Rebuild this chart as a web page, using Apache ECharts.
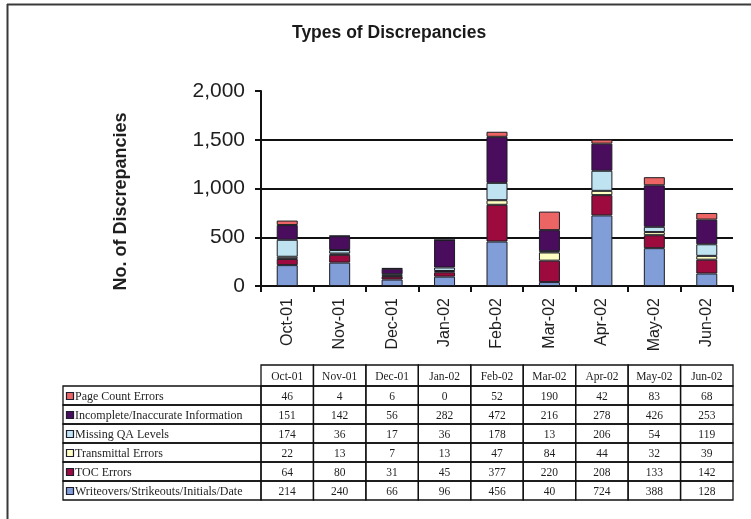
<!DOCTYPE html>
<html>
<head>
<meta charset="utf-8">
<script src="https://cdn.jsdelivr.net/npm/echarts@6/dist/echarts.min.js"></script>
<style>
  html, body { margin: 0; padding: 0; background: #ffffff; }
  #chart { width: 751px; height: 519px; }
</style>
</head>
<body>
<div id="chart"></div>
<script>
// Months shown on the category axis and as table column headers
const months = ['Oct-01', 'Nov-01', 'Dec-01', 'Jan-02', 'Feb-02', 'Mar-02', 'Apr-02', 'May-02', 'Jun-02'];

// Discrepancy counts per month, one array per type
const pageCountErrors   = [46, 4, 6, 0, 52, 190, 42, 83, 68];
const incompleteInfo    = [151, 142, 56, 282, 472, 216, 278, 426, 253];
const missingQALevels   = [174, 36, 17, 36, 178, 13, 206, 54, 119];
const transmittalErrors = [22, 13, 7, 13, 47, 84, 44, 32, 39];
const tocErrors         = [64, 80, 31, 45, 377, 220, 208, 133, 142];
const writeovers        = [214, 240, 66, 96, 456, 40, 724, 388, 128];

// Value axis ticks
const yTicks = [0, 500, 1000, 1500, 2000];

// Table rows, top to bottom (the stack is drawn bottom-up, i.e. reversed)
const rows = [
  { name: 'Page Count Errors', data: pageCountErrors, color: '#ec6464' },
  { name: 'Incomplete/Inaccurate Information', data: incompleteInfo, color: '#4a0c5c' },
  { name: 'Missing QA Levels', data: missingQALevels, color: '#bfe3f0' },
  { name: 'Transmittal Errors', data: transmittalErrors, color: '#ffffc2' },
  { name: 'TOC Errors', data: tocErrors, color: '#9c0a3e' },
  { name: 'Writeovers/Strikeouts/Initials/Date', data: writeovers, color: '#819ed9' }
];

const chart = echarts.init(document.getElementById('chart'), null, { renderer: 'canvas' });

const series = rows.slice().reverse().map(r => ({
  name: r.name,
  type: 'bar',
  stack: 'total',
  barWidth: 21,
  data: r.data,
  itemStyle: { color: r.color, borderColor: '#1c1c24', borderWidth: 1 },
  emphasis: { disabled: true }
}));

chart.setOption({
  animation: false,
  backgroundColor: '#ffffff',
  title: {
    text: 'Types of Discrepancies',
    left: 287,
    top: 19,
    textStyle: { fontFamily: 'Liberation Sans, Arial, sans-serif', fontSize: 17.5, fontWeight: 'bold', color: '#1a1a1a' }
  },
  grid: { left: 261, right: 18, top: 91, bottom: 233, containLabel: false },
  xAxis: {
    type: 'category',
    data: months,
    axisLine: { show: true, lineStyle: { color: '#111', width: 2 } },
    axisTick: { show: true, length: 6, alignWithLabel: false, lineStyle: { color: '#111', width: 2 } },
    axisLabel: {
      rotate: 90,
      margin: 12,
      fontFamily: 'Liberation Sans, Arial, sans-serif',
      fontSize: 16,
      color: '#1e1e1e'
    }
  },
  yAxis: {
    type: 'value',
    min: yTicks[0],
    max: yTicks[yTicks.length - 1],
    interval: yTicks[1] - yTicks[0],
    name: 'No. of Discrepancies',
    nameLocation: 'middle',
    nameRotate: 90,
    nameGap: 131,
    nameTextStyle: {
      fontFamily: 'Liberation Sans, Arial, sans-serif',
      fontSize: 18,
      fontWeight: 'bold',
      color: '#1e1e1e',
      padding: [0, 26, 0, 0]
    },
    axisLine: { show: true, lineStyle: { color: '#111', width: 2 } },
    axisTick: { show: true, length: 6, lineStyle: { color: '#111', width: 2 } },
    axisLabel: {
      margin: 16,
      fontFamily: 'Liberation Sans, Arial, sans-serif',
      fontSize: 21,
      color: '#1e1e1e',
      formatter: v => v.toLocaleString('en-US')
    },
    splitLine: { show: true, showMinLine: false, showMaxLine: false, lineStyle: { color: '#111', width: 2 } }
  },
  series: series
});

// Data table under the chart, columns aligned with the category axis
function drawTable() {
  const centers = months.map(m => chart.convertToPixel({ xAxisIndex: 0 }, m));
  const colW = centers[1] - centers[0];
  const tableLeft = 63;
  const firstCol = centers[0] - colW / 2;
  const headerTop = 365;
  const headerH = 21;
  const rowH = 19;
  const serif = 'Liberation Serif, Times New Roman, serif';
  const line = { stroke: '#111', lineWidth: 1.3 };
  const els = [];

  // Outer frame of the figure
  els.push({ type: 'line', shape: { x1: 7.5, y1: 4, x2: 7.5, y2: 519 }, style: { stroke: '#3a3a3a', lineWidth: 2 }, silent: true });
  els.push({ type: 'line', shape: { x1: 7, y1: 4.5, x2: 751, y2: 4.5 }, style: { stroke: '#3a3a3a', lineWidth: 2 }, silent: true });

  // Header row
  months.forEach((m, i) => {
    const x = firstCol + i * colW;
    els.push({ type: 'rect', shape: { x: x, y: headerTop, width: colW, height: headerH }, style: Object.assign({ fill: 'none' }, line), silent: true });
    els.push({ type: 'text', x: x + colW / 2, y: headerTop + headerH / 2 + 1,
      style: { text: m, font: '11.5px ' + serif, fill: '#1e1e1e', align: 'center', verticalAlign: 'middle' }, silent: true });
  });

  // Body rows
  rows.forEach((r, ri) => {
    const y = headerTop + headerH + ri * rowH;
    els.push({ type: 'rect', shape: { x: tableLeft, y: y, width: firstCol - tableLeft, height: rowH }, style: Object.assign({ fill: 'none' }, line), silent: true });
    els.push({ type: 'rect', shape: { x: tableLeft + 3.5, y: y + 6.5, width: 7, height: 7 }, style: { fill: r.color, stroke: '#1c1c30', lineWidth: 1.2 }, silent: true });
    els.push({ type: 'text', x: tableLeft + 12, y: y + rowH / 2 + 1,
      style: { text: r.name, font: '12px ' + serif, fill: '#1e1e1e', align: 'left', verticalAlign: 'middle' }, silent: true });
    r.data.forEach((v, ci) => {
      const x = firstCol + ci * colW;
      els.push({ type: 'rect', shape: { x: x, y: y, width: colW, height: rowH }, style: Object.assign({ fill: 'none' }, line), silent: true });
      els.push({ type: 'text', x: x + colW / 2, y: y + rowH / 2 + 1,
        style: { text: String(v), font: '11.5px ' + serif, fill: '#1e1e1e', align: 'center', verticalAlign: 'middle' }, silent: true });
    });
  });

  chart.setOption({ graphic: { elements: els } });
}

drawTable();
</script>
</body>
</html>
